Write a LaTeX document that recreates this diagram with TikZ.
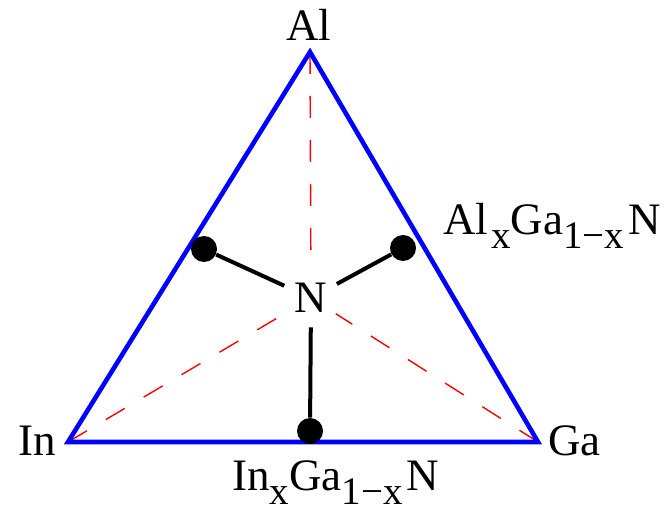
\documentclass[tikz,border=0pt]{standalone}
\usepackage{fontspec}
\setmainfont{Liberation Serif}
\usetikzlibrary{positioning}
\newcommand{\lowered}[1]{\raisebox{-7pt}{\fontsize{19.5}{23}\selectfont #1}}

\begin{document}
\begin{tikzpicture}[
  x=0.5pt, y=-0.5pt,
  font=\fontsize{22.5}{27}\selectfont,
  side/.style={draw=blue, line width=2.3pt, line join=miter},
  guide/.style={draw=red, line width=0.7pt, dash pattern=on 11pt off 11pt},
  bond/.style={line width=2pt},
  atom/.style={circle, fill=black, inner sep=0pt, minimum size=13pt},
  lbl/.style={inner sep=0pt, anchor=base}
]
  \useasboundingbox (0,0) rectangle (667,512);

  % corners of the triangle
  \coordinate (al) at (310,52);
  \coordinate (in) at (68,442);
  \coordinate (ga) at (538,442);

  \node[circle, inner sep=0pt, minimum size=29pt] (n) at (311,298) {};
  \node[lbl] (nlab) at (311,313) {N};

  % guides to the centre
  \draw[guide] (al) -- (n);
  \draw[guide] (in) -- (n);
  \draw[guide] (ga) -- (n);

  \draw[side] (al) -- (in) -- (ga) -- cycle;

  % atoms on the edges
  \node[atom] (d1) at (204,249) {};
  \node[atom] (d2) at (403,248) {};
  \node[atom] (d3) at (310,431) {};
  \draw[bond] (d1) -- (n);
  \draw[bond] (d2) -- (n);
  \draw[bond] (d3) -- (n);

  % labels
  \node[lbl] (allab) at (309,41) {Al};
  \node[lbl, anchor=base east] (inlab) at (56,455) {In};
  \node[lbl, anchor=base west] (galab) at (548,455) {Ga};
  \node[lbl, anchor=base west] (algan) at (443,235)
    {Al\kern1.5pt\lowered{x}Ga\lowered{1−x}\kern2pt N};
  \node[lbl, anchor=base west] (ingan) at (232,490)
    {In\lowered{x}Ga\lowered{1−x}\kern2pt N};
\end{tikzpicture}
\end{document}
